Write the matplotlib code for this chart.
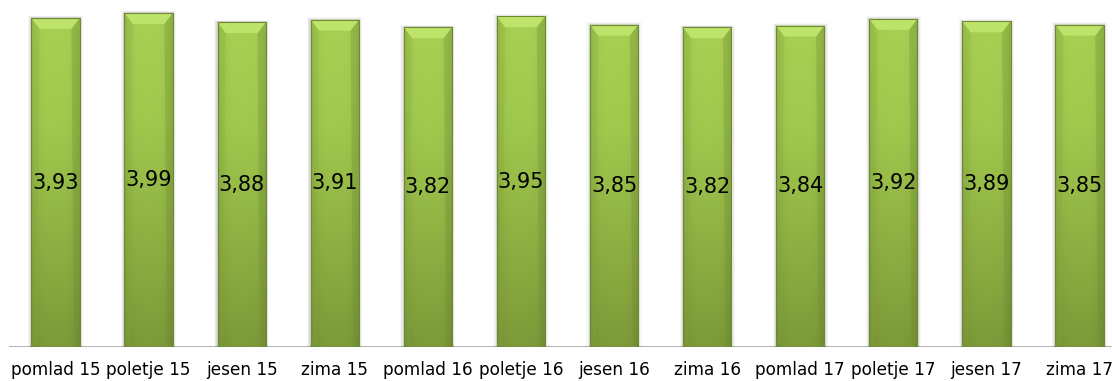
import numpy as np
import matplotlib
matplotlib.use('Agg')
import matplotlib.pyplot as plt
from matplotlib.patches import Polygon
from matplotlib.colors import LinearSegmentedColormap

categories = ["pomlad 15", "poletje 15", "jesen 15", "zima 15",
              "pomlad 16", "poletje 16", "jesen 16", "zima 16",
              "pomlad 17", "poletje 17", "jesen 17", "zima 17"]
values = [3.93, 3.99, 3.88, 3.91, 3.82, 3.95, 3.85, 3.82, 3.84, 3.92, 3.89, 3.85]
labels = [f"{v:.2f}".replace(".", ",") for v in values]

W, H = 1112, 381
fig = plt.figure(figsize=(W / 100, H / 100), dpi=100)
# plot area runs past the right edge of the picture, as in the original crop
ax = fig.add_axes([9 / W, 34 / H, 1117 / W, 347 / H])
ax.set_xlim(-0.5, len(values) - 0.5)
ax.set_ylim(0, 4.146)
ax.axis('off')

ax.axhline(0, color='#a6a6a6', lw=1.2, zorder=1)

width = 0.52
cmap_v = LinearSegmentedColormap.from_list("g", ["#7c9a39", "#8fb143", "#9fc84d", "#a8d053"])
grad_v = np.linspace(0, 1, 256)[:, None]
grad_h = np.linspace(-1, 1, 64)[None, :]
shade = 1 - 0.10 * np.abs(grad_h) ** 4
rgb = cmap_v(np.repeat(grad_v, 64, axis=1))[..., :3] * shade[..., None]

bars = ax.bar(range(len(values)), values, width=width, color='none',
              edgecolor='#6d8a32', lw=0.8, zorder=3)
for i, (b, v) in enumerate(zip(bars, values)):
    x0, w, h = b.get_x(), b.get_width(), b.get_height()
    # soft shadow
    for k, a in enumerate([0.07, 0.05, 0.03]):
        d = 0.012 * (k + 1)
        ax.add_patch(plt.Rectangle((x0 - d, 0), w + 2 * d, h + 0.01 * (k + 1),
                                   color='black', alpha=a, lw=0, zorder=2))
    im = ax.imshow(rgb, extent=(x0, x0 + w, 0, h), origin='lower',
                   aspect='auto', zorder=2.5, interpolation='bilinear')
    im.set_clip_path(b)
    # bevel at the top
    dx = 0.09
    dy = 0.13
    ax.add_patch(Polygon([(x0, h), (x0 + w, h), (x0 + w - dx, h - dy), (x0 + dx, h - dy)],
                         closed=True, color='#bde36a', lw=0, zorder=2.6))
    ax.add_patch(Polygon([(x0, h), (x0 + dx, h - dy), (x0 + dx * 0.7, 0.03), (x0, 0)],
                         closed=True, color='#8aab40', alpha=0.25, lw=0, zorder=2.6))
    ax.add_patch(Polygon([(x0 + w, h), (x0 + w - dx, h - dy), (x0 + w - dx * 0.7, 0.03), (x0 + w, 0)],
                         closed=True, color='#6f8c33', alpha=0.3, lw=0, zorder=2.6))
    ax.text(i, h / 2, labels[i], ha='center', va='center', fontsize=15,
            color='black', zorder=5)
    ax.text(i, -0.275, categories[i], ha='center', va='center', fontsize=12.2,
            color='black', zorder=5)

fig.savefig("out.png", dpi=100)
